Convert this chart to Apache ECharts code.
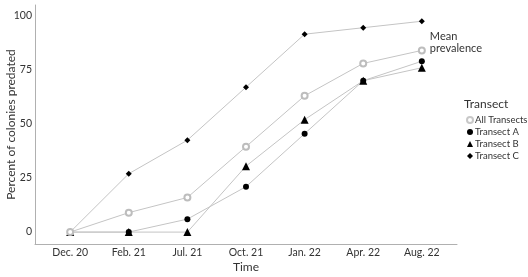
<!DOCTYPE html>
<html>
<head>
<meta charset="UTF-8">
<title>Percent of colonies predated</title>
<script src="https://cdn.jsdelivr.net/npm/echarts@6/dist/echarts.min.js"></script>
<style>
html, body { margin: 0; padding: 0; background: #fff; }
#main { width: 528px; height: 277px; }
</style>
</head>
<body>
<div id="main"></div>
<script type="text/javascript">
var months = ['Dec. 20', 'Feb. 21', 'Jul. 21', 'Oct. 21', 'Jan. 22', 'Apr. 22', 'Aug. 22'];
var allTransects = [0, 9, 16, 39.5, 63, 78, 84];
var transectA = [0, 0, 6, 21, 45.5, 70, 79];
var transectB = [0, 0, 0, 30.5, 52, 70, 76];
var transectC = [0, 27, 42.5, 67, 91.5, 94.5, 97.5];
var yTicks = [0, 25, 50, 75, 100];

function pairs(arr) {
	return arr.map(function (v, i) { return [i, v]; });
}

var font = 'Lato';
var lineGrey = '#c4c4c4';

var myChart = echarts.init(document.getElementById('main'));
var option = {
	animation: false,
	textStyle: { fontFamily: font },
	grid: { left: 35, right: 71, top: 5, bottom: 33, outerBoundsMode: 'none', containLabel: false },
	xAxis: {
		type: 'value',
		min: -0.6,
		max: 6.6,
		name: 'Time',
		nameLocation: 'middle',
		nameGap: 17,
		nameMoveOverlap: false,
		nameTextStyle: { fontSize: 12, color: '#333', fontFamily: font },
		axisLine: { onZero: false, lineStyle: { color: '#b0b0b0' } },
		axisTick: { show: false },
		splitLine: { show: false },
		axisLabel: {
			customValues: months.map(function (m, i) { return i; }),
			formatter: function (v) { return months[Math.round(v)]; },
			fontSize: 10.5, color: '#333', margin: 3
		}
	},
	yAxis: {
		type: 'value',
		min: -5.5,
		max: 105,
		name: 'Percent of colonies predated',
		nameLocation: 'middle',
		nameGap: 18,
		nameMoveOverlap: false,
		nameTextStyle: { fontSize: 12, color: '#333', fontFamily: font },
		axisLine: { show: true, onZero: false, lineStyle: { color: '#b0b0b0' } },
		axisTick: { show: false },
		splitLine: { show: false },
		axisLabel: {
			customValues: yTicks,
			fontSize: 10.5, color: '#333', margin: 3
		}
	},
	legend: {
		orient: 'vertical',
		left: 466,
		top: 115,
		itemWidth: 6,
		itemHeight: 6,
		itemGap: 2,
		padding: 0,
		textStyle: { fontSize: 9.5, color: '#333', padding: [0, 0, 0, -3] },
		data: [
			{ name: 'All Transects', icon: 'emptyCircle', itemStyle: { color: '#c8c8c8', borderWidth: 1 } },
			{ name: 'Transect A', icon: 'circle', itemStyle: { color: '#000' } },
			{ name: 'Transect B', icon: 'triangle', itemStyle: { color: '#000' } },
			{ name: 'Transect C', icon: 'diamond', itemStyle: { color: '#000' } }
		]
	},
	graphic: [{
		type: 'text',
		left: 464,
		top: 98,
		style: { text: 'Transect', fontSize: 12, fill: '#333', fontFamily: font }
	}],
	series: [
		{
			name: 'Transect C', type: 'line', data: pairs(transectC),
			symbol: 'diamond', symbolSize: 6,
			lineStyle: { color: lineGrey, width: 1 },
			itemStyle: { color: '#000' }
		},
		{
			name: 'Transect A', type: 'line', data: pairs(transectA),
			symbol: 'circle', symbolSize: 6,
			lineStyle: { color: lineGrey, width: 1 },
			itemStyle: { color: '#000' }
		},
		{
			name: 'Transect B', type: 'line', data: pairs(transectB),
			symbol: 'triangle', symbolSize: 8,
			lineStyle: { color: lineGrey, width: 1 },
			itemStyle: { color: '#000' }
		},
		{
			name: 'All Transects', type: 'line', data: pairs(allTransects),
			symbol: 'emptyCircle', symbolSize: 6,
			lineStyle: { color: lineGrey, width: 1 },
			itemStyle: { color: '#bdbdbd', borderColor: '#bdbdbd', borderWidth: 1 },
			label: {
				show: true,
				position: 'right',
				distance: 4,
				fontSize: 11,
				color: '#333',
				lineHeight: 12,
				offset: [0, -8],
				formatter: function (p) { return p.dataIndex === allTransects.length - 1 ? 'Mean\nprevalence' : ''; }
			}
		}
	]
};
myChart.setOption(option);
</script>
</body>
</html>
